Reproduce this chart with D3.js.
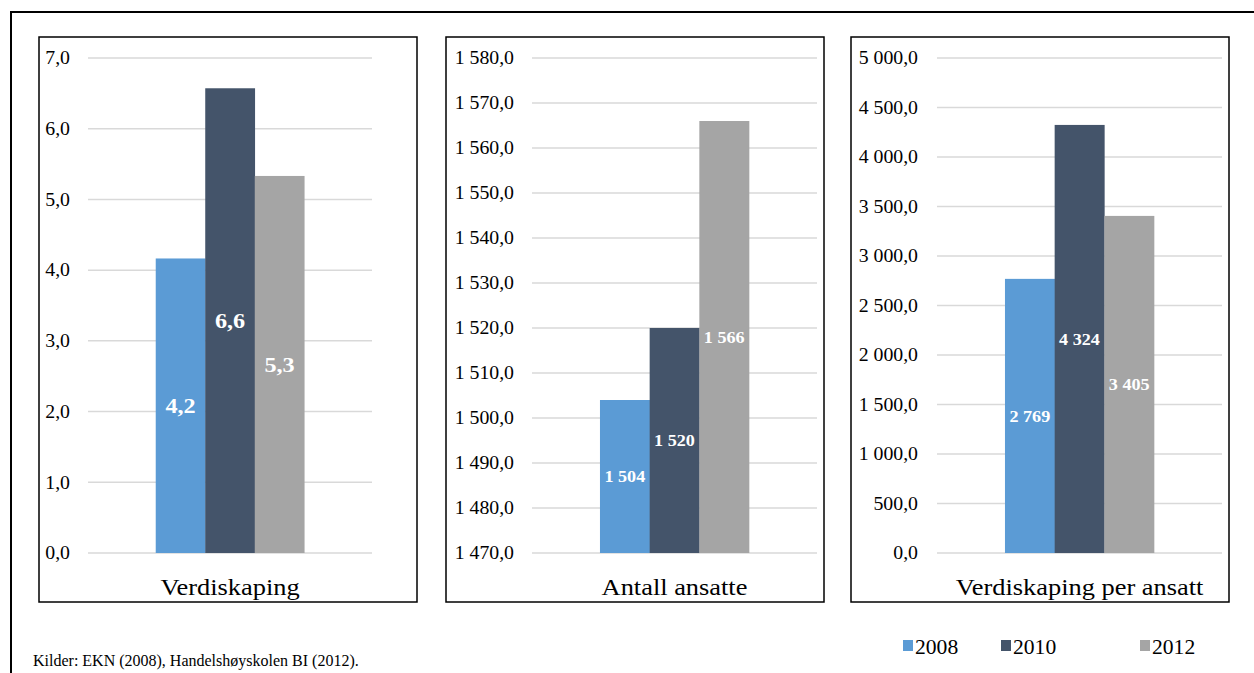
<!DOCTYPE html>
<html>
<head>
<meta charset="utf-8">
<script src="https://cdn.jsdelivr.net/npm/d3@7"></script>
<style>
  html, body { margin: 0; padding: 0; background: #fff; }
  svg { display: block; }
</style>
</head>
<body>
<svg id="chart" width="1254" height="673"></svg>
<script>
// ---- Data ----
const years = ["2008", "2010", "2012"];
const categories = ["Verdiskaping", "Antall ansatte", "Verdiskaping per ansatt"];
const verdiskaping = [4.165, 6.572, 5.332];
const antallAnsatte = [1504, 1520, 1566];
const verdiskapingPerAnsatt = [2769, 4324, 3405];
const ticksVerdiskaping = [0, 1, 2, 3, 4, 5, 6, 7];
const ticksAnsatte = [1470, 1480, 1490, 1500, 1510, 1520, 1530, 1540, 1550, 1560, 1570, 1580];
const ticksPerAnsatt = [0, 500, 1000, 1500, 2000, 2500, 3000, 3500, 4000, 4500, 5000];
const colors = ["#5B9BD5", "#44546A", "#A5A5A5"];
const footnote = "Kilder: EKN (2008), Handelshøyskolen BI (2012).";

// ---- Setup ----
const svg = d3.select("#chart");
const FONT = "'Liberation Serif', 'Times New Roman', serif";
const SX = 1.1; // horizontal stretch of the reference text
const locale = d3.formatLocale({decimal: ",", thousands: "\u00a0", grouping: [3], currency: ["", " kr"]});
const fmt1 = locale.format(",.1f");
const fmt0 = locale.format(",.0f");

function txt(g, x, y, s, opts) {
  const sx = opts.sx !== undefined ? opts.sx : SX;
  return g.append("text")
    .attr("transform", `translate(${x},${y}) scale(${sx},1)`)
    .attr("text-anchor", opts.anchor || "middle")
    .attr("dy", opts.dy || null)
    .attr("font-family", FONT)
    .attr("font-size", opts.size)
    .attr("font-weight", opts.weight || "normal")
    .attr("fill", opts.fill || "#000")
    .text(s);
}

// outer frame
svg.append("path")
  .attr("d", "M11,673 L11,12 L1254,12")
  .attr("fill", "none").attr("stroke", "#000").attr("stroke-width", 2);

const panels = [
  {name: categories[0], values: verdiskaping, ticks: ticksVerdiskaping, domain: [0, 7],
   box: [39, 37, 417, 602], plot: [88, 372], labelRight: 70, valFmt: locale.format(",.1f"), labelSize: 22},
  {name: categories[1], values: antallAnsatte, ticks: ticksAnsatte, domain: [1470, 1580],
   box: [446, 37, 824, 602], plot: [532, 817], labelRight: 514, valFmt: fmt0, labelSize: 16.5},
  {name: categories[2], values: verdiskapingPerAnsatt, ticks: ticksPerAnsatt, domain: [0, 5000],
   box: [851, 37, 1229, 602], plot: [937, 1222], labelRight: 918, valFmt: fmt0, labelSize: 16.5}
];

const yTop = 58, yBottom = 553;

panels.forEach(p => {
  const g = svg.append("g");
  const y = d3.scaleLinear().domain(p.domain).range([yBottom, yTop]);
  const x0 = d3.scaleBand().domain([p.name]).range(p.plot).paddingInner(0).paddingOuter(0.456);
  const x1 = d3.scaleBand().domain(years).range([0, x0.bandwidth()]).padding(0);

  // gridlines
  g.selectAll("line.grid").data(p.ticks).join("line")
    .attr("x1", p.plot[0]).attr("x2", p.plot[1])
    .attr("y1", d => y(d)).attr("y2", d => y(d))
    .attr("stroke", "#D9D9D9").attr("stroke-width", 1.5);

  // tick labels
  p.ticks.forEach(t => {
    txt(g, p.labelRight, y(t), fmt1(t), {anchor: "end", dy: "0.35em", size: 18});
  });

  // bars
  const data = years.map((yr, i) => ({yr, v: p.values[i], c: colors[i]}));
  g.selectAll("rect.bar").data(data).join("rect")
    .attr("x", d => x0(p.name) + x1(d.yr))
    .attr("width", x1.bandwidth() + 0.3)
    .attr("y", d => y(d.v))
    .attr("height", d => y(p.domain[0]) - y(d.v))
    .attr("fill", d => d.c);

  // value labels (centered in bars)
  data.forEach(d => {
    const cx = x0(p.name) + x1(d.yr) + x1.bandwidth() / 2;
    const cy = (y(d.v) + y(p.domain[0])) / 2;
    txt(g, cx, cy, p.valFmt(d.v), {dy: "0.35em", size: p.labelSize, weight: "bold", fill: "#fff"});
  });

  // category label
  txt(g, (p.plot[0] + p.plot[1]) / 2, 595, p.name, {size: 24});

  // panel border
  g.append("rect")
    .attr("x", p.box[0]).attr("y", p.box[1])
    .attr("width", p.box[2] - p.box[0]).attr("height", p.box[3] - p.box[1])
    .attr("fill", "none").attr("stroke", "#000").attr("stroke-width", 1.5);
});

// legend
const legendX = [903, 1001, 1140];
years.forEach((yr, i) => {
  svg.append("rect").attr("x", legendX[i]).attr("y", 640).attr("width", 10).attr("height", 11).attr("fill", colors[i]);
  txt(svg, legendX[i] + 12, 654, yr, {anchor: "start", size: 21, sx: 1.03});
});

// footnote
txt(svg, 33, 666, footnote, {anchor: "start", size: 16, sx: 1});
</script>
</body>
</html>
